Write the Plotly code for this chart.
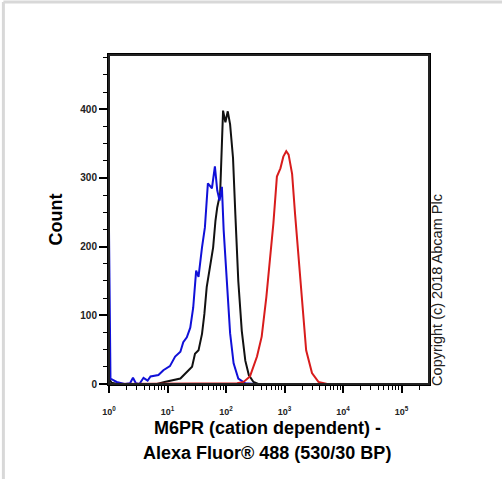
import plotly.graph_objects as go

# Fluorescence (x) and count (y) values
blue_x = [1.0, 1.06, 1.35, 1.86, 2.29, 2.57, 2.88, 3.31, 3.89, 4.57, 5.13, 7.0, 8.5, 11.0, 13.5, 16.6,
          18.6, 21.4, 24.5, 27.5, 30.9, 33.9, 38.9, 43.6, 49.0, 57.5, 64.6, 70.8, 77.6, 85.1, 91.2,
          104.7, 117.5, 134.9, 162.2, 213.8, 316.0, 295000.0]
blue_y = [224, 8, 3, 0, 1, 9, 1, 0, 9, 5, 11, 13, 20, 26, 40, 47,
          61, 68, 82, 111, 165, 156, 199, 228, 292, 285, 317, 282, 267, 287, 224,
          141, 74, 30, 8, 1, 0, 0]

black_x = [1.0, 1.1, 1.4, 6.6, 8.9, 12.6, 16.6, 20.0, 26.3, 29.5, 33.9, 38.9, 42.7, 46.8, 53.7,
           60.3, 66.1, 70.8, 79.4, 85.1, 89.1, 97.7, 107.2, 117.5, 131.8, 144.5, 162.2, 186.2,
           213.8, 245.5, 295.1, 354.8, 295000.0]
black_y = [8, 2, 0, 0, 3, 6, 8, 15, 25, 44, 49, 73, 102, 141, 175,
           199, 238, 257, 277, 345, 398, 381, 397, 378, 329, 247, 150, 77,
           34, 13, 3, 0, 0]

red_x = [1.0, 117.5, 154.9, 199.5, 257.0, 338.8, 407.4, 489.8, 575.4, 645.7, 741.3, 851.1, 955.0,
         1071.5, 1174.9, 1349.0, 1513.6, 1737.8, 1995.0, 2344.0, 2951.0, 3802.0, 5370.0, 295000.0]
red_y = [0, 0, 1, 3, 11, 40, 69, 127, 185, 234, 302, 314, 331,
         339, 334, 306, 248, 185, 117, 49, 16, 3, 0, 0]

x_tick_vals = [1, 10, 100, 1000, 10000, 100000]
x_tick_text = ["<b>10<sup>0</sup></b>", "<b>10<sup>1</sup></b>", "<b>10<sup>2</sup></b>",
               "<b>10<sup>3</sup></b>", "<b>10<sup>4</sup></b>", "<b>10<sup>5</sup></b>"]
y_tick_vals = [0, 100, 200, 300, 400]
y_tick_text = ["<b>0</b>", "<b>100</b>", "<b>200</b>", "<b>300</b>", "<b>400</b>"]

x_title_1 = "M6PR (cation dependent) -"
x_title_2 = "Alexa Fluor® 488 (530/30 BP)"
y_title = "Count"
copyright_text = "Copyright (c) 2018 Abcam Plc"

FONT = "Liberation Sans, Arial, sans-serif"

fig = go.Figure()
fig.add_trace(go.Scatter(x=black_x, y=black_y, mode="lines",
                         line=dict(color="#111111", width=2), showlegend=False))
fig.add_trace(go.Scatter(x=blue_x, y=blue_y, mode="lines",
                         line=dict(color="#1010d8", width=2), showlegend=False))
fig.add_trace(go.Scatter(x=red_x, y=red_y, mode="lines",
                         line=dict(color="#d81c1c", width=2), showlegend=False))

fig.update_layout(
    width=502, height=479,
    margin=dict(l=109, r=73, t=55, b=95),
    paper_bgcolor="white", plot_bgcolor="white",
    font=dict(family=FONT, color="black"),
)

fig.update_xaxes(
    type="log", range=[0, 5.47],
    showgrid=False, zeroline=False,
    showline=True, linecolor="black", linewidth=2, mirror=True,
    tickmode="array", tickvals=x_tick_vals, ticktext=x_tick_text,
    ticks="outside", ticklen=7, tickwidth=2, tickcolor="black",
    tickfont=dict(size=9, family=FONT, color="#222222"),
    ticklabelstandoff=11,
    minor=dict(ticks="outside", ticklen=4, tickwidth=1, tickcolor="black", dtick="D1"),
)
fig.update_yaxes(
    range=[0, 479],
    showgrid=False, zeroline=False,
    showline=True, linecolor="black", linewidth=2, mirror=True,
    tickmode="array", tickvals=y_tick_vals, ticktext=y_tick_text,
    ticks="outside", ticklen=8, tickwidth=2, tickcolor="black",
    tickfont=dict(size=10, family=FONT, color="#222222"),
    minor=dict(ticks="outside", ticklen=4, tickwidth=1, tickcolor="black",
               tickmode="linear", tick0=0, dtick=25),
)

# plot frame drawn explicitly as well
fig.add_shape(type="rect", xref="paper", yref="paper", x0=0, x1=1, y0=0, y1=1,
              line=dict(color="#222222", width=2), layer="above")

# light grey frame (top and left edges) as in the reference image
fig.add_shape(type="line", xref="paper", yref="paper", x0=-0.33, x1=1.25, y0=1.161, y1=1.161,
              line=dict(color="#d8d8d8", width=3))
fig.add_shape(type="line", xref="paper", yref="paper", x0=-0.33, x1=-0.33, y0=1.161, y1=-0.32,
              line=dict(color="#d8d8d8", width=3))

fig.add_annotation(text="<b>" + y_title + "</b>", xref="paper", yref="paper",
                   x=-0.166, y=0.5, textangle=-90, showarrow=False,
                   font=dict(size=18, family=FONT, color="black"),
                   xanchor="center", yanchor="middle")
fig.add_annotation(text="<b>" + x_title_1 + "</b>", xref="paper", yref="paper",
                   x=0.494, y=-0.134, showarrow=False,
                   font=dict(size=18, family=FONT, color="black"),
                   xanchor="center", yanchor="middle")
fig.add_annotation(text="<b>" + x_title_2 + "</b>", xref="paper", yref="paper",
                   x=0.494, y=-0.21, showarrow=False,
                   font=dict(size=18, family=FONT, color="black"),
                   xanchor="center", yanchor="middle")
fig.add_annotation(text=copyright_text, xref="paper", yref="paper",
                   x=1.025, y=0.286, textangle=-90, showarrow=False,
                   font=dict(size=14.5, family=FONT, color="#222222"),
                   xanchor="center", yanchor="middle")

fig.write_html("out.html", config={"displayModeBar": False},
               post_script="document.body.style.margin='0';document.body.style.overflow='hidden';")
